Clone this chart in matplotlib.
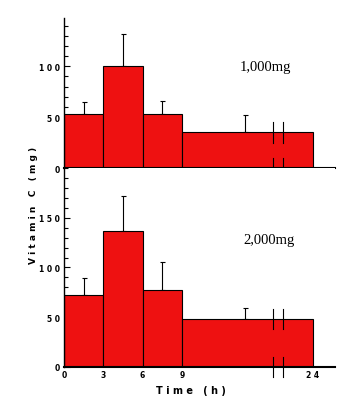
import numpy as np
import matplotlib.pyplot as plt
from matplotlib.ticker import MultipleLocator

# collection periods (h); the last period runs 9-24 h on a broken axis
period_start = [0, 3, 6, 9]
period_end = [3, 6, 9, 24]
tick_hours = [0, 3, 6, 9, 24]

# urinary vitamin C per period (mg), mean and upper SD
dose_1000 = [53, 100, 53, 35]
sd_1000 = [12, 32, 13, 17]
dose_2000 = [72, 137, 77, 48]
sd_2000 = [17, 35, 29, 11]

err_x_last = 13.8   # error bar on the long bar sits left of centre


def hpos(h):
    # 0-9 h linear, 24 h squeezed onto position 19
    h = np.asarray(h, dtype=float)
    return np.where(h <= 9, h, 9 + (h - 9) * 10 / 15)


red = "#ee1111"
tick_font = dict(fontsize=5.5, fontweight="bold", family="DejaVu Sans")

fig = plt.figure(figsize=(3.5, 4.02), dpi=100)
ax1 = fig.add_axes([0.183, 0.5796, 0.774, 0.372])
ax2 = fig.add_axes([0.183, 0.0846, 0.774, 0.495])


def draw(ax, vals, sds, ymax, yticks, top_label, lx, ly):
    left = hpos(period_start)
    right = hpos(period_end)
    ax.bar(left, vals, width=right - left, align="edge", color=red,
           edgecolor="black", linewidth=0.8, zorder=2)
    ex = (left + right) / 2
    ex[-1] = err_x_last
    ax.errorbar(ex, vals, yerr=[np.zeros(len(sds)), sds], fmt="none",
                ecolor="black", elinewidth=0.8, capsize=1.8, capthick=0.8, zorder=1)
    # break marks on the long bar
    for bx in (16.0, 16.7):
        ax.plot([bx, bx], [-10, 10], color="black", lw=0.8, clip_on=False, zorder=3)
        ax.plot([bx, bx], [vals[-1] - 10, vals[-1] + 10], color="black", lw=0.8,
                clip_on=False, zorder=3)
    ax.set_xlim(0, 20.7)
    for s in ("top", "right"):
        ax.spines[s].set_visible(False)
    ax.spines["left"].set_linewidth(1.0)
    ax.spines["bottom"].set_linewidth(1.5)
    ax.set_yticks(yticks)
    ax.set_yticklabels([" ".join(str(t)) for t in yticks], **tick_font)
    ax.yaxis.set_minor_locator(MultipleLocator(10))
    ax.set_ylim(0, ymax)
    ax.tick_params(axis="y", which="both", direction="in", width=0.8)
    ax.tick_params(axis="y", which="major", length=4, pad=3)
    ax.tick_params(axis="y", which="minor", length=3)
    ax.text(lx, ly, top_label, transform=ax.transAxes, ha="center",
            va="center", fontsize=10.5, family="Liberation Serif")


draw(ax1, dose_1000, sd_1000, 147, [0, 50, 100], "1,000mg", 0.745, 0.68)
draw(ax2, dose_2000, sd_2000, 200, [0, 50, 100, 150], "2,000mg", 0.756, 0.643)

ax1.set_xticks([])

ax2.set_xticks(hpos(tick_hours))
ax2.set_xticklabels([" ".join(str(h)) for h in tick_hours], **tick_font)
ax2.tick_params(axis="x", length=0, pad=2)
ax2.set_xlabel("T i m e   ( h )", fontsize=7, fontweight="bold")
ax2.xaxis.set_label_coords(0.469, -0.09)

fig.text(0.097, 0.49, "V i t a m i n   C   ( m g )", rotation=90, ha="center",
         va="center", fontsize=6.5, fontweight="bold")

fig.savefig("out.png", dpi=100)
